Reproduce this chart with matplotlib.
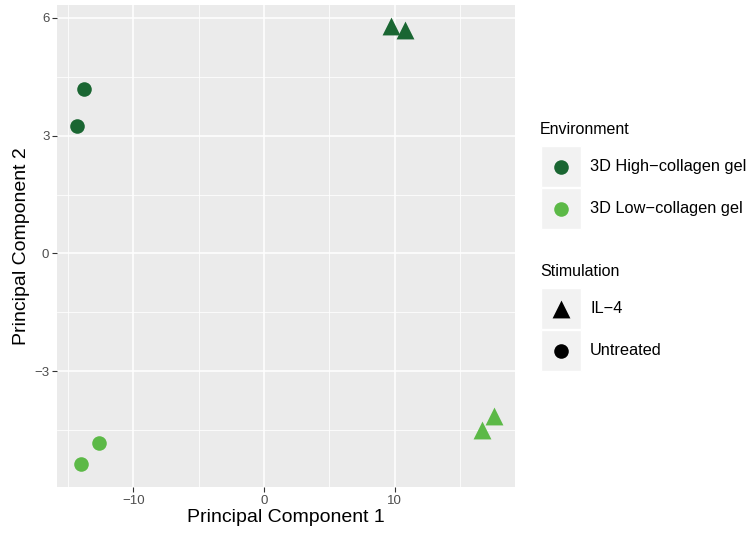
import matplotlib.pyplot as plt
from matplotlib.patches import Rectangle

plt.rcParams['font.family'] = ['Liberation Sans', 'DejaVu Sans']

# PCA scores
pc1 = [-13.8, -14.3, -12.6, -14.0, 9.7, 10.8, 17.6, 16.7]
pc2 = [4.20, 3.25, -4.83, -5.37, 5.80, 5.70, -4.15, -4.50]
environment = ['3D High\u2212collagen gel', '3D High\u2212collagen gel',
               '3D Low\u2212collagen gel', '3D Low\u2212collagen gel',
               '3D High\u2212collagen gel', '3D High\u2212collagen gel',
               '3D Low\u2212collagen gel', '3D Low\u2212collagen gel']
stimulation = ['Untreated', 'Untreated', 'Untreated', 'Untreated',
               'IL\u22124', 'IL\u22124', 'IL\u22124', 'IL\u22124']

env_levels = ['3D High\u2212collagen gel', '3D Low\u2212collagen gel']
env_colors = {'3D High\u2212collagen gel': '#1a6632', '3D Low\u2212collagen gel': '#5cb947'}
stim_levels = ['IL\u22124', 'Untreated']
stim_markers = {'IL\u22124': '^', 'Untreated': 'o'}
stim_sizes = {'IL\u22124': 165, 'Untreated': 110}

xticks = [-10, 0, 10]
yticks = [-3, 0, 3, 6]

W, H = 749, 538
fig = plt.figure(figsize=(W / 100, H / 100), dpi=100)
ax = fig.add_axes([57 / W, 1 - 487 / H, (515 - 57) / W, (487 - 5) / H])
ax.set_facecolor('#ebebeb')
for s in ax.spines.values():
    s.set_visible(False)

for x, y, e, st in zip(pc1, pc2, environment, stimulation):
    ax.scatter(x, y, s=stim_sizes[st], marker=stim_markers[st], color=env_colors[e],
               linewidths=0, zorder=3)

ax.set_xlim(-15.85, 19.2)
ax.set_ylim(-5.95, 6.33)
ax.set_xticks(xticks)
ax.set_yticks(yticks)
ax.set_xticklabels(['\u221210', '0', '10'])
ax.set_yticklabels(['\u22123', '0', '3', '6'])
ax.set_xticks([-15, -5, 5, 15], minor=True)
ax.set_yticks([-4.5, -1.5, 1.5, 4.5], minor=True)
ax.grid(which='major', color='white', linewidth=1.1)
ax.grid(which='minor', color='white', linewidth=0.55)
ax.set_axisbelow(True)
ax.tick_params(which='major', length=3.5, width=0.8, color='#333333', labelcolor='#4d4d4d',
               labelsize=9.5, pad=2)
ax.tick_params(which='minor', length=0)
ax.set_xlabel('Principal Component 1', fontsize=14, color='black', labelpad=2)
ax.set_ylabel('Principal Component 2', fontsize=14, color='black', labelpad=3)

# legend drawn by hand in pixel space, ggplot style
lg = fig.add_axes([0, 0, 1, 1], zorder=-1)
lg.set_xlim(0, W)
lg.set_ylim(H, 0)
lg.axis('off')

def legend_block(title, y0, labels, draw):
    lg.text(540, y0, title, fontsize=11.5, va='center', ha='left')
    for i, lab in enumerate(labels):
        top = y0 + 17 + i * 42
        lg.add_patch(Rectangle((541, top), 40, 41, facecolor='#f2f2f2', edgecolor='white', lw=1))
        draw(561, top + 20.5, lab)
        lg.text(590, top + 20.5, lab, fontsize=11.8, va='center', ha='left')

legend_block('Environment', 129, env_levels,
             lambda x, y, lab: lg.scatter(x, y, s=110, marker='o', color=env_colors[lab], linewidths=0))
legend_block('Stimulation', 271, stim_levels,
             lambda x, y, lab: lg.scatter(x, y, s=stim_sizes[lab], marker=stim_markers[lab],
                                          color='black', linewidths=0))

fig.savefig('out.png', dpi=100)
